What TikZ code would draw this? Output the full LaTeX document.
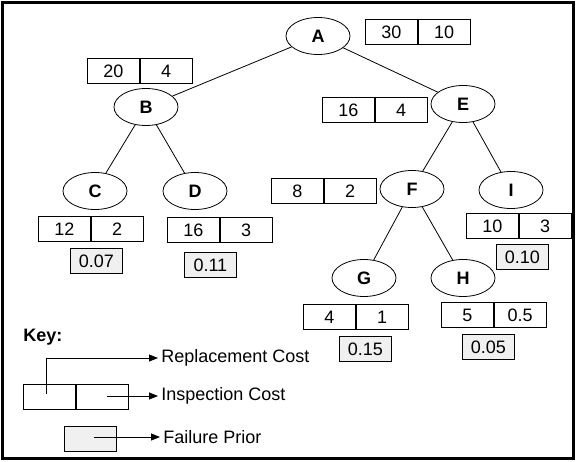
\documentclass[tikz,border=0pt]{standalone}
\usepackage{fontspec}
\setmainfont{Liberation Sans}
\usetikzlibrary{positioning,shapes.geometric,arrows.meta}

\tikzset{
	fault/.style={draw, ellipse, minimum width=64pt, minimum height=37pt, inner sep=0pt, font=\fontsize{18}{21}\selectfont\bfseries},
	cell/.style={draw, rectangle, minimum width=52pt, minimum height=25pt, inner sep=0pt},
	prior/.style={cell, fill=black!6},
	keytext/.style={anchor=west, inner sep=3pt},
	keyarrow/.style={-{Triangle[length=9pt,width=7pt]}},
}

\begin{document}
\begin{tikzpicture}[x=1pt, y=-1pt, line width=0.8pt, font=\fontsize{18}{21}\selectfont]
\useasboundingbox (0,0) rectangle (576,461);
\draw[line width=2.5pt] (2.5,2.5) rectangle (573.5,458.5);

\foreach \n/\x/\y in {A/318/36, B/146/107, E/463/104, C/95/191, D/195/191, F/412/189, I/511/190, G/364/278, H/463/278}{
	\node[fault] (\n) at (\x,\y) {\n};
}
\foreach \a/\b in {A/B, A/E, B/C, B/D, E/F, E/I, F/G, F/H}{
	\draw (\a) -- (\b);
}

\foreach \n/\x/\y/\r/\c in {A/365/19/30/10, B/87/58/20/4, E/322/97/16/4, C/38/216/12/2, D/167/217/16/3, F/271/178/8/2, I/466/213/10/3, G/303/304/4/1, H/441/302/5/0.5}{
	\node[cell, anchor=north west] (r\n) at (\x,\y) {\r};
	\node[cell, right=0pt of r\n] (i\n) {\c};
}
\foreach \n/\x/\y/\p in {C/70/248/0.07, D/184/252/0.11, I/496/244/0.10, G/339/336/0.15, H/462/334/0.05}{
	\node[prior, anchor=north west] (p\n) at (\x,\y) {\p};
}

\node[anchor=west, inner sep=0pt, font=\fontsize{18}{21}\selectfont\bfseries] (key) at (23,337) {Key:};
\node[cell, anchor=north west] (kr) at (23,384) {};
\node[cell, right=0pt of kr] (ki) {};
\node[prior, anchor=north west] (kp) at (64,426) {};
\node[keytext] (repl) at (158,358) {Replacement Cost};
\node[keytext] (insp) at (158,396) {Inspection Cost};
\node[keytext] (fail) at (160,437) {Failure Prior};
\coordinate (kra) at (46,394);
\coordinate (kia) at (107,396);
\coordinate (kpa) at (94,437);
\draw[keyarrow] (kra) |- (repl.west);
\draw[keyarrow] (kia) -- (insp.west);
\draw[keyarrow] (kpa) -- (fail.west);

\end{tikzpicture}
\end{document}
